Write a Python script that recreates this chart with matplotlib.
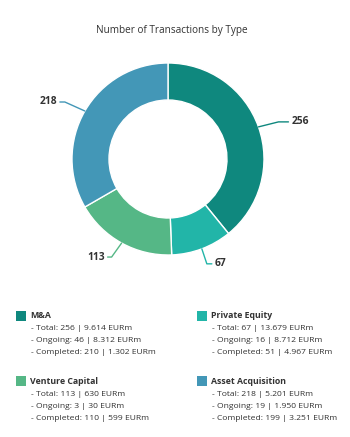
import matplotlib
matplotlib.use("Agg")
import matplotlib.pyplot as plt
import numpy as np

categories = ["M&A", "Private Equity", "Venture Capital", "Asset Acquisition"]
counts = [256, 67, 113, 218]
details = [
    ["- Total: 256 | 9.614 EURm", "- Ongoing: 46 | 8.312 EURm", "- Completed: 210 | 1.302 EURm"],
    ["- Total: 67 | 13.679 EURm", "- Ongoing: 16 | 8.712 EURm", "- Completed: 51 | 4.967 EURm"],
    ["- Total: 113 | 630 EURm", "- Ongoing: 3 | 30 EURm", "- Completed: 110 | 599 EURm"],
    ["- Total: 218 | 5.201 EURm", "- Ongoing: 19 | 1.950 EURm", "- Completed: 199 | 3.251 EURm"],
]
colors = ["#0f887e", "#22b5a8", "#55b786", "#4397b7"]
title = "Number of Transactions by Type"

W, H = 350, 437
fig = plt.figure(figsize=(W / 100, H / 100), dpi=100)
ax = fig.add_axes([0, 0, 1, 1])

FONT = "Open Sans"
cx, cy, R, width = 168, H - 159, 96, 37

wedges, _ = ax.pie(counts, colors=colors, startangle=90, counterclock=False,
                   center=(cx, cy), radius=R, frame=True,
                   wedgeprops=dict(width=width, edgecolor="white", linewidth=1))
ax.set_xlim(0, W)
ax.set_ylim(0, H)
ax.set_aspect("equal")
ax.axis("off")

ax.text(W / 2 - 3, H - 30, title, ha="center", va="center", fontsize=7.2,
        family=FONT, color="#333333")

# label connectors
total = sum(counts)
cum = 0
label_cfg = [
    ((20, 5), (10, 0), "left"),
    ((5, -15), (5, 0), "left"),
    ((-10, -14), (-4, 0), "right"),
    ((-20, 9), (-5, 0), "right"),
]
for i, v in enumerate(counts):
    mid = cum + v / 2
    cum += v
    ang = np.deg2rad(90 - mid / total * 360)
    x0, y0 = cx + R * np.cos(ang), cy + R * np.sin(ang)
    (ex, ey), (fx, fy), side = label_cfg[i]
    x1, y1 = x0 + ex, y0 + ey
    x2, y2 = x1 + fx, y1 + fy
    ax.plot([x0, x1, x2], [y0, y1, y2], color=colors[i], lw=1, solid_capstyle="round")
    if side == "left":
        ax.text(x2 + 3, y2, str(v), ha="left", va="center", fontsize=7.4,
                fontweight="bold", family=FONT, color="#333333")
    else:
        ax.text(x2 - 3, y2, str(v), ha="right", va="center", fontsize=7.4,
                fontweight="bold", family=FONT, color="#333333")

# legend
positions = [(16, 316), (197, 316), (16, 381), (197, 381)]
for i, (lx, ly) in enumerate(positions):
    ax.add_patch(plt.Rectangle((lx, H - ly - 5), 10, 10, color=colors[i], lw=0))
    ax.text(lx + 14, H - ly, categories[i], ha="left", va="center", fontsize=6.3,
            fontweight="bold", family=FONT, color="#333333")
    for j, line in enumerate(details[i]):
        ax.text(lx + 15, H - ly - 13 - 12 * j, line, ha="left", va="center",
                fontsize=6.1, family=FONT, color="#333333")

fig.savefig("out.png", dpi=100)
